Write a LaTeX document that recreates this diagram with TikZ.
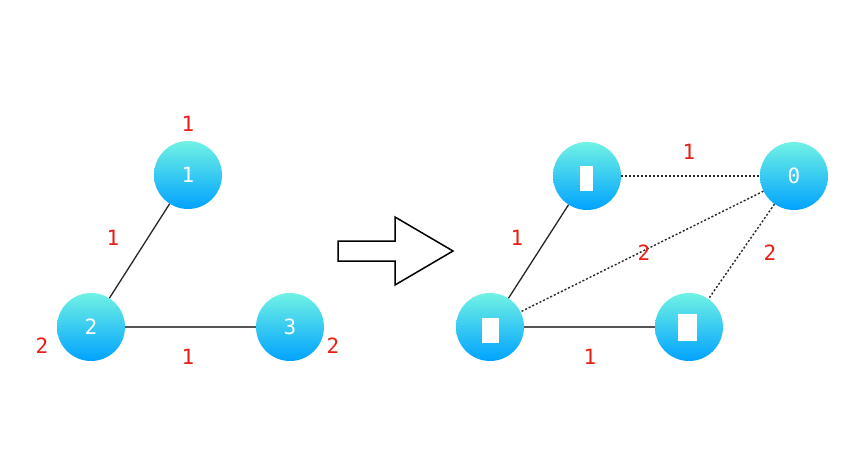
\documentclass[tikz,border=0pt]{standalone}
\usepackage{fontspec}
\newfontfamily\digitfont{DejaVu Sans Mono}
\definecolor{nodetop}{RGB}{112,242,228}
\definecolor{nodebot}{RGB}{0,162,255}
\definecolor{wred}{RGB}{235,30,20}
\definecolor{edgegray}{RGB}{85,85,85}
\tikzset{
    vertex/.style={circle, minimum size=68pt, inner sep=0pt,
        top color=nodetop, bottom color=nodebot,
        text=white, font=\digitfont\fontsize{21}{21}\selectfont},
    weight/.style={text=wred, font=\digitfont\fontsize{21}{21}\selectfont, inner sep=0pt},
    thinedge/.style={draw=black!85, line width=1.3pt},
    thickedge/.style={draw=edgegray, line width=2.4pt},
    dotedge/.style={draw=black!85, line width=1.4pt, dash pattern=on 2pt off 2pt},
    blank/.style={fill=white, draw=none}
}
\begin{document}
\begin{tikzpicture}[x=1pt, y=-1pt]

    % ==========================================
    % 1. CANVAS
    % ==========================================
    \useasboundingbox (0,0) rectangle (862,476);

    % ==========================================
    % 2. LEFT GRAPH
    % ==========================================
    \node[vertex] (L1) at (188,175) {1};
    \node[vertex] (L2) at (91,327) {2};
    \node[vertex] (L3) at (290,327) {3};

    \draw[thinedge] (L1) -- (L2);
    \draw[thickedge] (L2) -- (L3);

    % Weights
    \node[weight] (wL1) at (188,124) {1};
    \node[weight] (wL12) at (113,238) {1};
    \node[weight] (wL2) at (42,346) {2};
    \node[weight] (wL23) at (188,357) {1};
    \node[weight] (wL3) at (333,346) {2};

    % ==========================================
    % 3. BIG ARROW
    % ==========================================
    \draw[line width=1.5pt, fill=white, line join=miter]
        (338,241) -- (395,241) -- (395,217) -- (453,251)
        -- (395,285) -- (395,261) -- (338,261) -- cycle;

    % ==========================================
    % 4. RIGHT GRAPH
    % ==========================================
    \node[vertex] (RA) at (587,176) {};
    \node[vertex] (R0) at (794,176) {0};
    \node[vertex] (RB) at (490,327) {};
    \node[vertex] (RC) at (689,327) {};

    % Unprintable labels show as white boxes
    \fill[blank] (580,166) rectangle (593,191);
    \fill[blank] (482,318) rectangle (499,343);
    \fill[blank] (678,314) rectangle (697,341);

    \draw[thinedge] (RA) -- (RB);
    \draw[thickedge] (RB) -- (RC);
    \draw[dotedge] (RA) -- (R0);
    \draw[dotedge] (R0) -- (RB);
    \draw[dotedge] (R0) -- (RC);

    % Weights
    \node[weight] (wA0) at (689,152) {1};
    \node[weight] (wAB) at (517,238) {1};
    \node[weight] (w0B) at (644,253) {2};
    \node[weight] (w0C) at (770,253) {2};
    \node[weight] (wBC) at (590,357) {1};

\end{tikzpicture}
\end{document}
